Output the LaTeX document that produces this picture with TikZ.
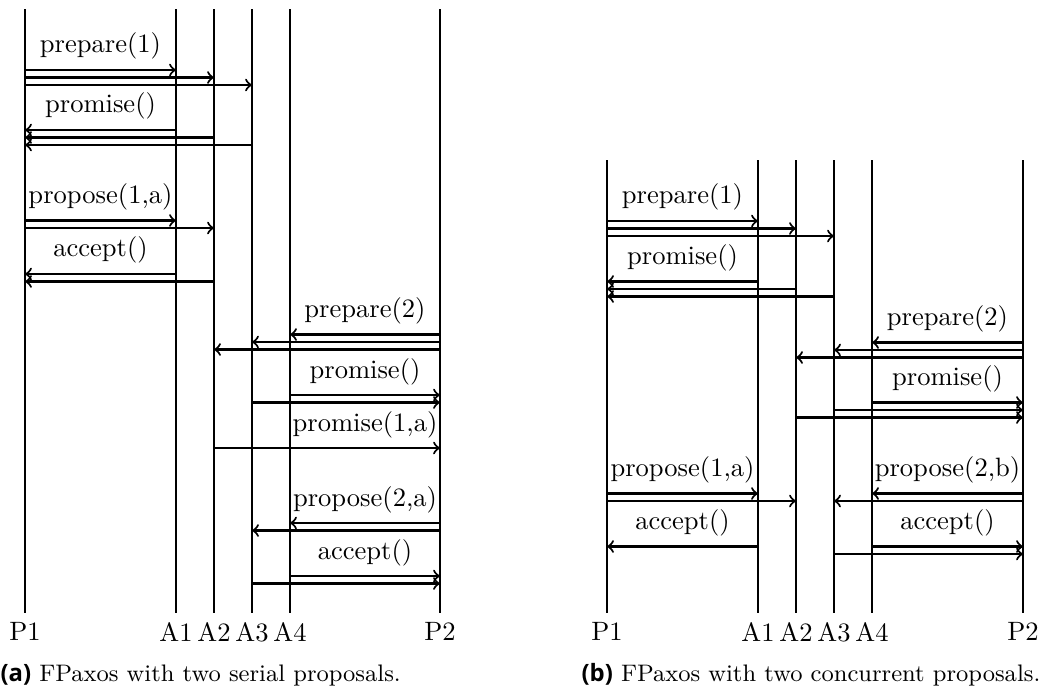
\documentclass[tikz,border=0pt]{standalone}
\usepackage{fontspec}
\newfontfamily\caplabelfont{Open Sans}
\begin{document}
\begin{tikzpicture}[x=0.3768pt,y=-0.3768pt,
  procline/.style={line width=0.8pt},
  accline/.style={line width=0.4pt},
  msg/.style={line width=0.8pt,->},
  lbl/.style={anchor=south,font=\normalsize},
  lifelbl/.style={anchor=north},
  captxt/.style={anchor=west,inner sep=0pt,font=\small}]
\useasboundingbox (0,0) rectangle (1043,697);
% ---------- (a) ----------
\coordinate (aP1) at (25,9);   \coordinate (aP1b) at (25,613);
\coordinate (aA1) at (176,9);  \coordinate (aA1b) at (176,613);
\coordinate (aA2) at (214,9);  \coordinate (aA2b) at (214,613);
\coordinate (aA3) at (252,9);  \coordinate (aA3b) at (252,613);
\coordinate (aA4) at (290,9);  \coordinate (aA4b) at (290,613);
\coordinate (aP2) at (440,9);  \coordinate (aP2b) at (440,613);
\draw[procline] (aP1) -- (aP1b);
\draw[accline] (aA1) -- (aA1b);
\draw[accline] (aA2) -- (aA2b);
\draw[accline] (aA3) -- (aA3b);
\draw[accline] (aA4) -- (aA4b);
\draw[procline] (aP2) -- (aP2b);
\node[lifelbl] (laP1) at (aP1b) {P1};
\node[lifelbl] (laA1) at (aA1b) {A1};
\node[lifelbl] (laA2) at (aA2b) {A2};
\node[lifelbl] (laA3) at (aA3b) {A3};
\node[lifelbl] (laA4) at (aA4b) {A4};
\node[lifelbl] (laP2) at (aP2b) {P2};
% prepare(1)
\node[lbl] (ma1) at (100.5,69) {prepare(1)};
\draw[msg] (aP1 |- 0,70) -- (aA1 |- 0,70);
\draw[msg] (aP1 |- 0,77.5) -- (aA2 |- 0,77.5);
\draw[msg] (aP1 |- 0,85) -- (aA3 |- 0,85);
% promise()
\node[lbl] (ma2) at (100.5,129) {promise()};
\draw[msg] (aA1 |- 0,130) -- (aP1 |- 0,130);
\draw[msg] (aA2 |- 0,137.5) -- (aP1 |- 0,137.5);
\draw[msg] (aA3 |- 0,145) -- (aP1 |- 0,145);
% propose(1,a)
\node[lbl] (ma3) at (100.5,219.5) {propose(1,a)};
\draw[msg] (aP1 |- 0,220.5) -- (aA1 |- 0,220.5);
\draw[msg] (aP1 |- 0,228) -- (aA2 |- 0,228);
% accept()
\node[lbl] (ma4) at (100.5,273) {accept()};
\draw[msg] (aA1 |- 0,274) -- (aP1 |- 0,274);
\draw[msg] (aA2 |- 0,281.5) -- (aP1 |- 0,281.5);
% prepare(2)
\node[lbl] (ma5) at (365,333.5) {prepare(2)};
\draw[msg] (aP2 |- 0,334.5) -- (aA4 |- 0,334.5);
\draw[msg] (aP2 |- 0,342) -- (aA3 |- 0,342);
\draw[msg] (aP2 |- 0,349.5) -- (aA2 |- 0,349.5);
% promise()
\node[lbl] (ma6) at (365,394) {promise()};
\draw[msg] (aA4 |- 0,395) -- (aP2 |- 0,395);
\draw[msg] (aA3 |- 0,402.5) -- (aP2 |- 0,402.5);
% promise(1,a)
\node[lbl] (ma7) at (365,447) {promise(1,a)};
\draw[msg] (aA2 |- 0,448) -- (aP2 |- 0,448);
% propose(2,a)
\node[lbl] (ma8) at (365,522) {propose(2,a)};
\draw[msg] (aP2 |- 0,523) -- (aA4 |- 0,523);
\draw[msg] (aP2 |- 0,530.5) -- (aA3 |- 0,530.5);
% accept()
\node[lbl] (ma9) at (365,575) {accept()};
\draw[msg] (aA4 |- 0,576) -- (aP2 |- 0,576);
\draw[msg] (aA3 |- 0,583.5) -- (aP2 |- 0,583.5);
\node[captxt] (capa) at (0,675) {{\caplabelfont\bfseries(a)} FPaxos with two serial proposals.};
% ---------- (b) ----------
\coordinate (bP1) at (607,160);   \coordinate (bP1b) at (607,613);
\coordinate (bA1) at (758,160);   \coordinate (bA1b) at (758,613);
\coordinate (bA2) at (796,160);   \coordinate (bA2b) at (796,613);
\coordinate (bA3) at (834,160);   \coordinate (bA3b) at (834,613);
\coordinate (bA4) at (872,160);   \coordinate (bA4b) at (872,613);
\coordinate (bP2) at (1023,160);  \coordinate (bP2b) at (1023,613);
\draw[procline] (bP1) -- (bP1b);
\draw[accline] (bA1) -- (bA1b);
\draw[accline] (bA2) -- (bA2b);
\draw[accline] (bA3) -- (bA3b);
\draw[accline] (bA4) -- (bA4b);
\draw[procline] (bP2) -- (bP2b);
\node[lifelbl] (lbP1) at (bP1b) {P1};
\node[lifelbl] (lbA1) at (bA1b) {A1};
\node[lifelbl] (lbA2) at (bA2b) {A2};
\node[lifelbl] (lbA3) at (bA3b) {A3};
\node[lifelbl] (lbA4) at (bA4b) {A4};
\node[lifelbl] (lbP2) at (bP2b) {P2};
% prepare(1)
\node[lbl] (mb1) at (682.5,220) {prepare(1)};
\draw[msg] (bP1 |- 0,221) -- (bA1 |- 0,221);
\draw[msg] (bP1 |- 0,228.5) -- (bA2 |- 0,228.5);
\draw[msg] (bP1 |- 0,236) -- (bA3 |- 0,236);
% promise()
\node[lbl] (mb2) at (682.5,280.5) {promise()};
\draw[msg] (bA1 |- 0,281.5) -- (bP1 |- 0,281.5);
\draw[msg] (bA2 |- 0,289) -- (bP1 |- 0,289);
\draw[msg] (bA3 |- 0,296.5) -- (bP1 |- 0,296.5);
% prepare(2)
\node[lbl] (mb3) at (947.5,341.5) {prepare(2)};
\draw[msg] (bP2 |- 0,342.5) -- (bA4 |- 0,342.5);
\draw[msg] (bP2 |- 0,350) -- (bA3 |- 0,350);
\draw[msg] (bP2 |- 0,357.5) -- (bA2 |- 0,357.5);
% promise()
\node[lbl] (mb4) at (947.5,401.5) {promise()};
\draw[msg] (bA4 |- 0,402.5) -- (bP2 |- 0,402.5);
\draw[msg] (bA3 |- 0,410) -- (bP2 |- 0,410);
\draw[msg] (bA2 |- 0,417.5) -- (bP2 |- 0,417.5);
% propose(1,a)
\node[lbl] (mb5) at (682.5,492.5) {propose(1,a)};
\draw[msg] (bP1 |- 0,493.5) -- (bA1 |- 0,493.5);
\draw[msg] (bP1 |- 0,501) -- (bA2 |- 0,501);
% propose(2,b)
\node[lbl] (mb6) at (947.5,492.5) {propose(2,b)};
\draw[msg] (bP2 |- 0,493.5) -- (bA4 |- 0,493.5);
\draw[msg] (bP2 |- 0,501) -- (bA3 |- 0,501);
% accept() left
\node[lbl] (mb7) at (682.5,545.5) {accept()};
\draw[msg] (bA1 |- 0,546.5) -- (bP1 |- 0,546.5);
% accept() right
\node[lbl] (mb8) at (947.5,545.5) {accept()};
\draw[msg] (bA4 |- 0,546.5) -- (bP2 |- 0,546.5);
\draw[msg] (bA3 |- 0,554) -- (bP2 |- 0,554);
\node[captxt] (capb) at (581,675) {{\caplabelfont\bfseries(b)} FPaxos with two concurrent proposals.};
\end{tikzpicture}
\end{document}
